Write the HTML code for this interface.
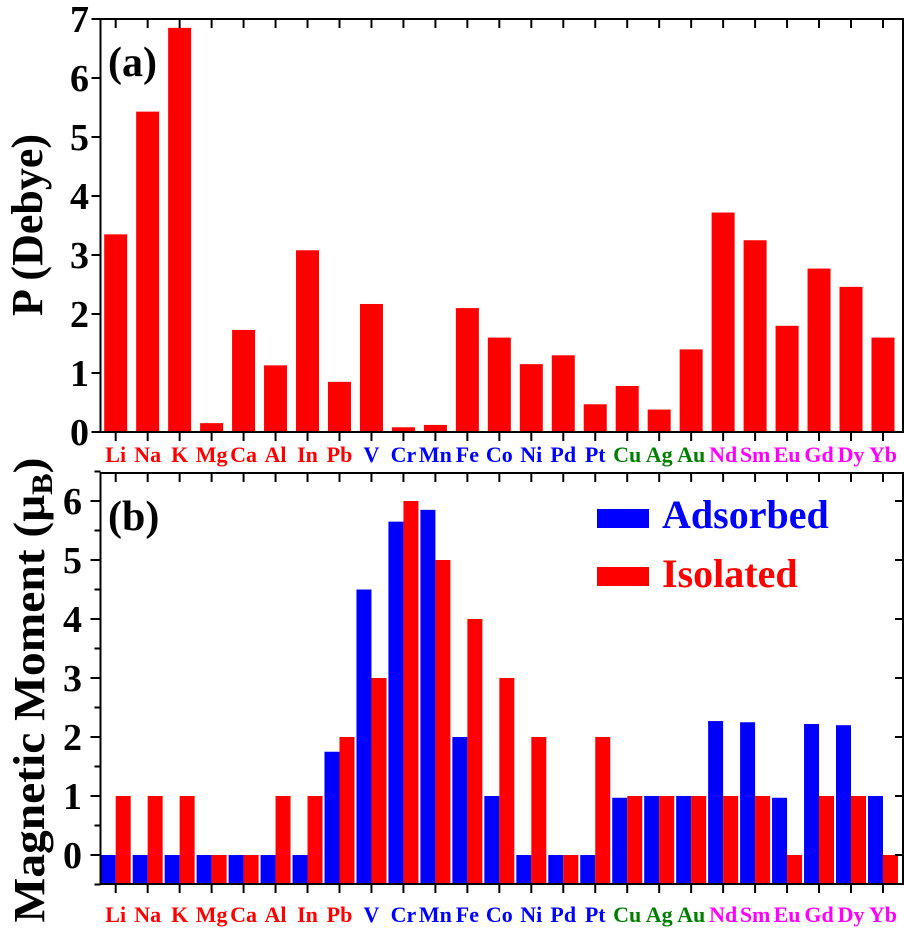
<!DOCTYPE html>
<html><head><meta charset="utf-8"><style>
html,body{margin:0;padding:0;background:#fff;}
svg{display:block;font-family:"Liberation Serif",serif;font-weight:bold;}
</style></head><body>
<svg id="chart" width="904" height="939" viewBox="0 0 904 939" xmlns="http://www.w3.org/2000/svg"></svg>
<script>
const categories=["Li","Na","K","Mg","Ca","Al","In","Pb","V","Cr","Mn","Fe","Co","Ni","Pd","Pt","Cu","Ag","Au","Nd","Sm","Eu","Gd","Dy","Yb"];
const groups=["r","r","r","r","r","r","r","r","b","b","b","b","b","b","b","b","g","g","g","m","m","m","m","m","m"];
const dipole=[3.35,5.43,6.85,0.15,1.73,1.13,3.08,0.85,2.17,0.08,0.12,2.1,1.6,1.15,1.3,0.47,0.78,0.38,1.4,3.72,3.25,1.8,2.77,2.46,1.6];
const adsorbed=[0,0,0,0,0,0,0,1.75,4.5,5.65,5.85,2,1,0,0,0,0.97,1,1,2.27,2.25,0.97,2.22,2.2,1.0];
const isolated=[1,1,1,0,0,1,1,2,3,6,5,4,3,2,0,2,1,1,1,1,1,0,1,1,0];
const ticksA=[0,1,2,3,4,5,6,7];
const ticksB=[0,1,2,3,4,5,6];

const NS="http://www.w3.org/2000/svg";
const svg=document.getElementById('chart');
const gcol={r:"#ff0000",b:"#0000ff",g:"#008000",m:"#ff00ff"};
function mk(t,a,txt){const e=document.createElementNS(NS,t);for(const k in a)e.setAttribute(k,a[k]);if(txt!==undefined)e.textContent=txt;svg.appendChild(e);return e;}
const L=100.5,R=903;
const xC=i=>115.7+i*31.97;
const yA=v=>432-v*59;
const yB=v=>855-v*59;

dipole.forEach((v,i)=>{
  const r=mk('rect',{x:xC(i)-11.5,y:yA(v),width:23,height:yA(0)-yA(v),fill:'#ff0000'});
  
  
});
adsorbed.forEach((v,i)=>{
  const r=mk('rect',{x:xC(i)-15,y:yB(v),width:15,height:884-yB(v),fill:'#0000ff'});
  
  
});
isolated.forEach((v,i)=>{
  const r=mk('rect',{x:xC(i),y:yB(v),width:15,height:884-yB(v),fill:'#ff0000'});
  
  
});

const fa=mk('rect',{x:L,y:19,width:R-L,height:413,fill:'none',stroke:'#000','stroke-width':2});

const fb=mk('rect',{x:L,y:473,width:R-L,height:411,fill:'none',stroke:'#000','stroke-width':2});


categories.forEach((c,i)=>{
  const x=xC(i);
  mk('line',{x1:x,y1:19,x2:x,y2:28,stroke:'#000','stroke-width':2});
  mk('line',{x1:x,y1:432,x2:x,y2:441,stroke:'#000','stroke-width':2});
  mk('line',{x1:x,y1:473,x2:x,y2:482,stroke:'#000','stroke-width':2});
  mk('line',{x1:x,y1:884,x2:x,y2:893,stroke:'#000','stroke-width':2});
  const t1=mk('text',{x:x,y:462,'text-anchor':'middle','font-size':22,fill:gcol[groups[i]]},c);
  
  const t2=mk('text',{x:x,y:922,'text-anchor':'middle','font-size':22,fill:gcol[groups[i]]},c);
  
});
ticksA.forEach(v=>{
  const y=yA(v);
  mk('line',{x1:L-9,y1:y,x2:L,y2:y,stroke:'#000','stroke-width':2});
  const t=mk('text',{x:89,y:y+13,'text-anchor':'end','font-size':38,fill:'#000'},String(v));
  
});
ticksB.forEach(v=>{
  const y=yB(v);
  mk('line',{x1:L-10,y1:y,x2:L,y2:y,stroke:'#000','stroke-width':2});
  mk('line',{x1:L-6,y1:yB(v-0.5),x2:L,y2:yB(v-0.5),stroke:'#000','stroke-width':2});
  mk('line',{x1:R-8,y1:y,x2:R,y2:y,stroke:'#000','stroke-width':2});
  const t=mk('text',{x:82,y:y+13,'text-anchor':'end','font-size':38,fill:'#000'},String(v));
  
});
mk('line',{x1:L-6,y1:yB(6.5),x2:L,y2:yB(6.5),stroke:'#000','stroke-width':2});

const ta=mk('text',{x:0,y:0,'text-anchor':'middle','font-size':44,fill:'#000',transform:'translate(42,225) rotate(-90)'},'P (Debye)');

const tb=mk('text',{x:0,y:0,'text-anchor':'middle','font-size':44,fill:'#000',transform:'translate(44,690) rotate(-90)',textLength:465,lengthAdjust:'spacingAndGlyphs'});

tb.innerHTML='Magnetic Moment (μ<tspan font-size="30" dy="8">B</tspan><tspan dy="-8">)</tspan>';

const pa=mk('text',{x:108,y:76,'font-size':42,fill:'#000'},'(a)');

const pb=mk('text',{x:108,y:530,'font-size':42,fill:'#000'},'(b)');


const l1=mk('rect',{x:597,y:509,width:52,height:19,fill:'#0000ff'});

const l1t=mk('text',{x:662,y:528,'font-size':40,fill:'#0000ff'},'Adsorbed');

const l2=mk('rect',{x:597,y:567,width:52,height:19,fill:'#ff0000'});

const l2t=mk('text',{x:662,y:587,'font-size':40,fill:'#ff0000'},'Isolated');

</script>
</body></html>
